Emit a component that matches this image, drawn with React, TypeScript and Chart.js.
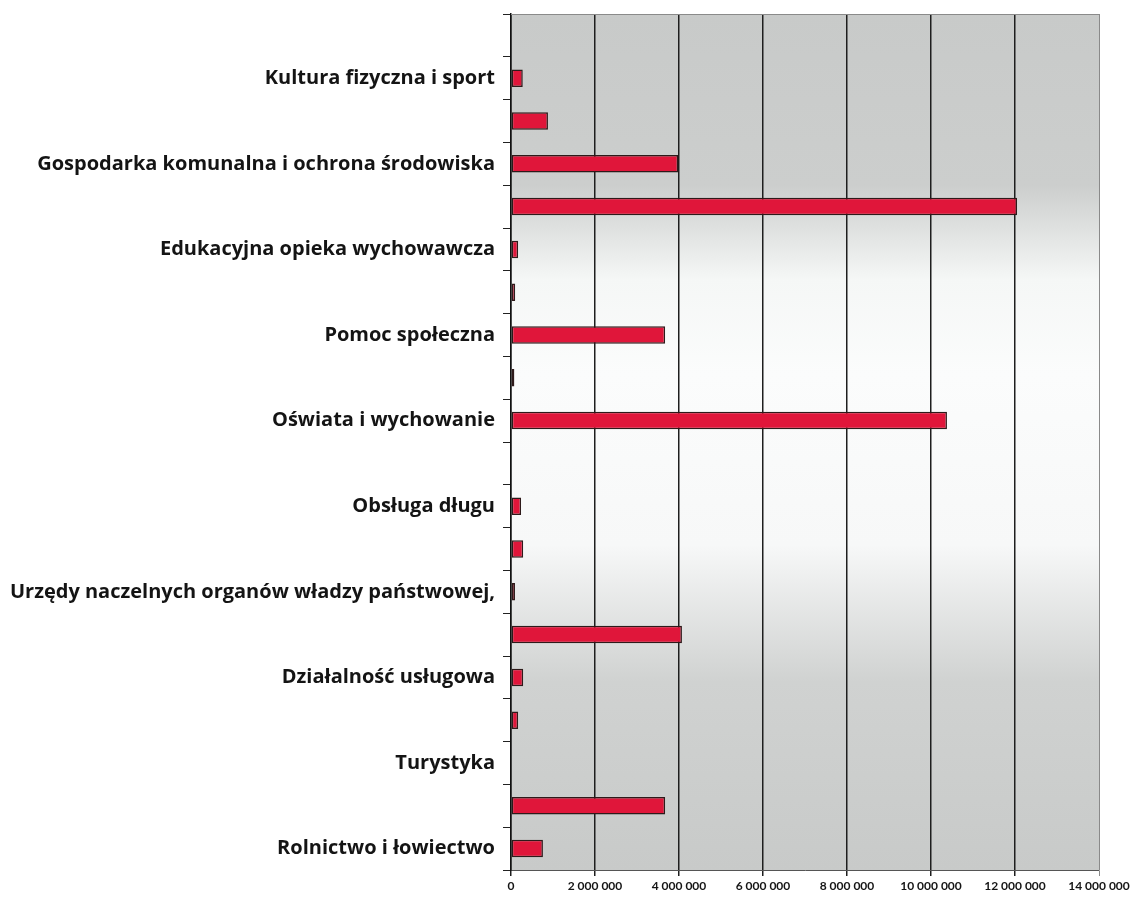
import React, { useEffect, useRef } from "react";
import { Chart, registerables } from "chart.js";

Chart.register(...registerables);

// Categories listed top to bottom (unlabelled categories are blank in the source picture)
const categories: string[] = [
  "",
  "Kultura fizyczna i sport",
  "",
  "Gospodarka komunalna i ochrona środowiska",
  "",
  "Edukacyjna opieka wychowawcza",
  "",
  "Pomoc społeczna",
  "",
  "Oświata i wychowanie",
  "",
  "Obsługa długu",
  "",
  "Urzędy naczelnych organów władzy państwowej,",
  "",
  "Działalność usługowa",
  "",
  "Turystyka",
  "",
  "Rolnictwo i łowiectwo",
];

const values: number[] = [
  0, 280000, 880000, 3980000, 12050000, 170000, 100000, 3670000, 80000, 10380000,
  0, 240000, 290000, 95000, 4070000, 290000, 170000, 0, 3670000, 760000,
];

const xTicks: number[] = [0, 2000000, 4000000, 6000000, 8000000, 10000000, 12000000, 14000000];

const fmt = (v: number) => String(Math.round(v)).replace(/\B(?=(\d{3})+(?!\d))/g, " ");

const bgPlugin = {
  id: "bgPlugin",
  beforeDraw(chart: any) {
    const { ctx, chartArea } = chart;
    if (!chartArea) return;
    const { left, top, right, bottom } = chartArea;
    const g = ctx.createLinearGradient(0, top, 0, bottom);
    g.addColorStop(0, "#c8cac9");
    g.addColorStop(0.2, "#cccecd");
    g.addColorStop(0.31, "#f5f7f6");
    g.addColorStop(0.42, "#fbfcfc");
    g.addColorStop(0.62, "#f7f8f8");
    g.addColorStop(0.78, "#d0d2d1");
    g.addColorStop(1, "#c8cac9");
    ctx.save();
    ctx.fillStyle = g;
    ctx.fillRect(left, top, right - left, bottom - top);
    ctx.restore();
  },
  afterDraw(chart: any) {
    const { ctx, chartArea } = chart;
    const { left, top, right } = chartArea;
    ctx.save();
    ctx.strokeStyle = "#8a8a8a";
    ctx.lineWidth = 1;
    ctx.beginPath();
    ctx.moveTo(left, top + 0.5);
    ctx.lineTo(right, top + 0.5);
    ctx.stroke();
    ctx.restore();
  },
};

export default function App() {
  const ref = useRef<HTMLCanvasElement | null>(null);
  useEffect(() => {
    if (!ref.current) return;
    const chart = new Chart(ref.current, {
      type: "bar",
      data: {
        labels: categories,
        datasets: [
          {
            data: values,
            backgroundColor: "#e0163a",
            borderColor: "#2e1a1a",
            borderWidth: 1.5,
            borderSkipped: false,
            barPercentage: 0.41,
            categoryPercentage: 1,
          },
        ],
      },
      options: {
        indexAxis: "y",
        responsive: false,
        animation: false,
        layout: { padding: { left: 0, right: 42, top: 14, bottom: 0 } },
        plugins: { legend: { display: false }, tooltip: { enabled: false } },
        scales: {
          x: {
            min: 0,
            max: 14000000,
            afterBuildTicks: (s: any) => {
              s.ticks = xTicks.map((v) => ({ value: v }));
            },
            afterFit: (s: any) => {
              s.height = 29;
              s.paddingLeft = 0;
              s.paddingRight = 0;
            },
            grid: {
              color: (c: any) => (c.tick && c.tick.value === 14000000 ? "#8a8a8a" : "#1e1e1e"),
              lineWidth: (c: any) => (c.tick && c.tick.value === 14000000 ? 1 : 1.5),
              tickLength: 6,
              drawTicks: true,
            },
            border: { display: true, color: "#555555", width: 1 },
            ticks: {
              callback: (v: any) => fmt(Number(v)),
              font: { family: "Lato", weight: "bold", size: 12 },
              color: "#151515",
              padding: 3,
              maxRotation: 0,
            },
          },
          y: {
            afterFit: (s: any) => {
              s.width = 511;
              s.paddingTop = 0;
              s.paddingBottom = 0;
            },
            grid: {
              drawOnChartArea: false,
              drawTicks: true,
              tickLength: 8,
              color: "#222222",
              offset: true,
            },
            border: { display: true, color: "#111111", width: 1.5 },
            ticks: {
              autoSkip: false,
              padding: 8,
              font: { family: "Open Sans", weight: "bold", size: 20 },
              color: "#141414",
            },
          },
        },
      },
      plugins: [bgPlugin],
    } as any);
    return () => chart.destroy();
  }, []);
  return (
    <div style={{ position: "absolute", left: 0, top: 0, width: 1141, height: 899, background: "#ffffff" }}>
      <canvas ref={ref} width={1141} height={899} style={{ display: "block" }} />
    </div>
  );
}
